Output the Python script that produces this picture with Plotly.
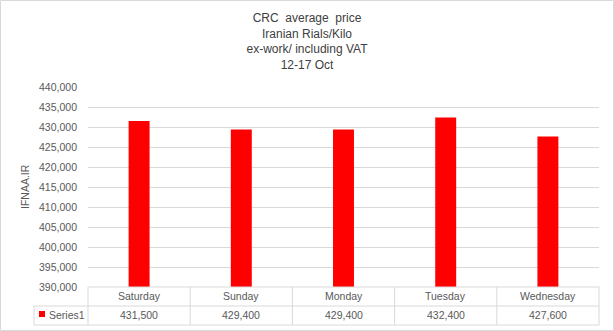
import plotly.graph_objects as go

days = ["Saturday", "Sunday", "Monday", "Tuesday", "Wednesday"]
prices = [431500, 429400, 429400, 432400, 427600]
series_name = "Series1"
title_lines = ["CRC  average  price", "Iranian Rials/Kilo", "ex-work/ including VAT", "12-17 Oct"]
y_ticks = list(range(390000, 440001, 5000))
y_title = "IFNAA.IR"

W, H = 614, 331
L, R, T, B = 88, 15, 87, 44
pw, ph = W - L - R, H - T - B

def px_x(p):
    return (p - L) / pw

def px_y(p):
    return (H - B - p) / ph

grid = "#D9D9D9"
txt = "#595959"
font = "Liberation Sans, Arial, sans-serif"

fig = go.Figure()
fig.add_trace(go.Bar(x=days, y=prices, marker=dict(color="#FF0000", line=dict(width=0)),
                     name=series_name, showlegend=False, hoverinfo="skip"))

shapes = []
annotations = []
n = len(days)
row1 = px_y(306)
row2 = px_y(325)
leg_left = px_x(34)
# table horizontal lines
shapes.append(dict(type="line", xref="paper", yref="paper", x0=0, x1=1, y0=0, y1=0,
                   line=dict(color=grid, width=1)))
for yy in (row1, row2):
    shapes.append(dict(type="line", xref="paper", yref="paper", x0=leg_left, x1=1, y0=yy, y1=yy,
                       line=dict(color=grid, width=1)))
# table vertical lines at category boundaries
for i in range(n + 1):
    shapes.append(dict(type="line", xref="x domain", yref="paper", x0=i / n, x1=i / n, y0=0, y1=row2,
                       line=dict(color=grid, width=1)))
shapes.append(dict(type="line", xref="paper", yref="paper", x0=leg_left, x1=leg_left, y0=row1, y1=row2,
                   line=dict(color=grid, width=1)))
# legend key square
shapes.append(dict(type="rect", xref="paper", yref="paper", x0=px_x(39), x1=px_x(45), y0=px_y(317), y1=px_y(311),
                   fillcolor="#FF0000", line=dict(width=0)))
# outer frame
shapes.append(dict(type="rect", xref="paper", yref="paper", x0=px_x(0.5), x1=px_x(613.5), y0=px_y(330.5), y1=px_y(0.5),
                   fillcolor="rgba(0,0,0,0)", line=dict(color=grid, width=1)))

for d, v in zip(days, prices):
    annotations.append(dict(x=d, xref="x", y=px_y(296), yref="paper", text=d, showarrow=False,
                            xanchor="center", yanchor="middle", font=dict(family=font, size=10.5, color=txt)))
    annotations.append(dict(x=d, xref="x", y=px_y(315), yref="paper", text=f"{v:,}", showarrow=False,
                            xanchor="center", yanchor="middle", font=dict(family=font, size=10.5, color=txt)))
annotations.append(dict(x=px_x(47), xref="paper", y=px_y(314.5), yref="paper", text=series_name, showarrow=False,
                        xanchor="left", yanchor="middle", font=dict(family=font, size=10.5, color=txt)))
annotations.append(dict(x=px_x(25), xref="paper", y=0.5, yref="paper", text=y_title, showarrow=False,
                        textangle=-90, xanchor="center", yanchor="middle",
                        font=dict(family=font, size=10.5, color=txt)))

fig.update_layout(
    width=W, height=H,
    margin=dict(l=L, r=R, t=T, b=B, pad=0),
    paper_bgcolor="white", plot_bgcolor="white",
    bargap=0.795,
    title=dict(text="<br>".join(title_lines), x=0.5, xref="container", xanchor="center",
               y=1 - 22 / H, yref="container", yanchor="middle",
               font=dict(family=font, size=12, color="#404040")),
    xaxis=dict(showticklabels=False, showgrid=False, zeroline=False, showline=False, ticks=""),
    yaxis=dict(range=[390000, 440000], tickvals=y_ticks, ticktext=[f"{t:,}" for t in y_ticks],
               showgrid=True, gridcolor=grid, gridwidth=1, zeroline=False, showline=False, ticks="",
               ticklabelstandoff=10,
               tickfont=dict(family=font, size=10.5, color=txt)),
    shapes=shapes, annotations=annotations, showlegend=False,
)
fig.write_html("out.html")
